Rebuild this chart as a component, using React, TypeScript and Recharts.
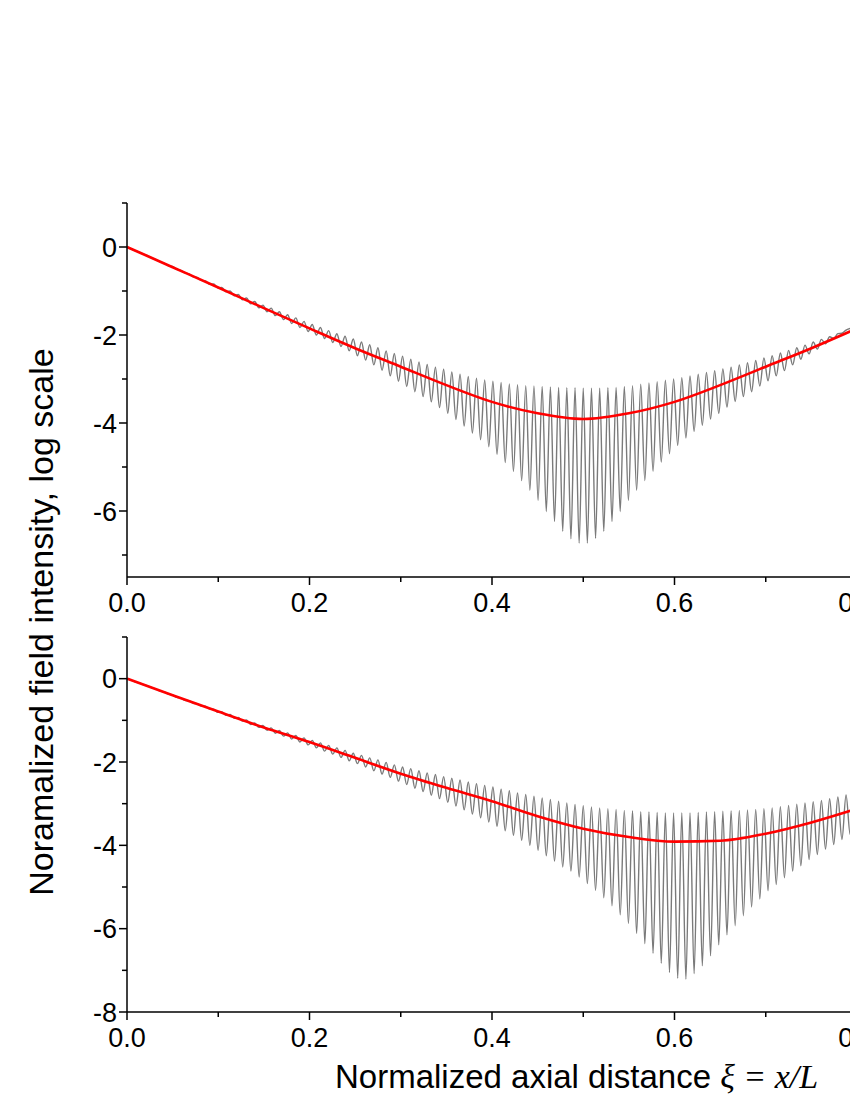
import { LineChart, Line, XAxis, YAxis } from 'recharts'

// spacing of the fast oscillation and where its first trough / peak sit
const PERIOD = 0.009
const FIRST_TROUGH = 0.0005
const FIRST_PEAK = 0.005

const X_TICKS = [0, 0.1, 0.2, 0.3, 0.4, 0.5, 0.6, 0.7, 0.8]
const TOP_Y_TICKS = [1, 0, -1, -2, -3, -4, -5, -6, -7]
const BOTTOM_Y_TICKS = [1, 0, -1, -2, -3, -4, -5, -6, -7, -8]

// smooth (averaged) curves, red
const RED_X = [0, 0.05, 0.1, 0.15, 0.2, 0.25, 0.3, 0.35, 0.4, 0.45, 0.5, 0.55, 0.6, 0.65, 0.7, 0.75, 0.8]
const TOP_RED = [0, -0.46, -0.92, -1.39, -1.85, -2.3, -2.72, -3.14, -3.52, -3.78, -3.91, -3.78, -3.52, -3.14, -2.72, -2.3, -1.85]
const BOTTOM_RED = [0, -0.4, -0.79, -1.17, -1.52, -1.9, -2.28, -2.62, -2.94, -3.3, -3.6, -3.8, -3.91, -3.89, -3.72, -3.45, -3.12]

// oscillating curves, gray: values at each peak and each trough
const TOP_PEAKS = [
  -0.05, -0.12, -0.2, -0.29, -0.37, -0.44, -0.53, -0.61, -0.69, -0.77,
  -0.84, -0.92, -1.0, -1.08, -1.16, -1.24, -1.32, -1.39, -1.47, -1.54,
  -1.61, -1.69, -1.76, -1.83, -1.9, -1.97, -2.03, -2.09, -2.16, -2.22,
  -2.29, -2.36, -2.42, -2.48, -2.55, -2.61, -2.67, -2.73, -2.78, -2.84,
  -2.89, -2.94, -2.98, -3.02, -3.05, -3.08, -3.11, -3.13, -3.15, -3.16,
  -3.17, -3.18, -3.19, -3.2, -3.2, -3.21, -3.21, -3.21, -3.2, -3.19,
  -3.17, -3.15, -3.12, -3.09, -3.06, -3.03, -3.0, -2.97, -2.93, -2.89,
  -2.85, -2.81, -2.77, -2.73, -2.68, -2.63, -2.58, -2.52, -2.47, -2.41,
  -2.35, -2.29, -2.23, -2.16, -2.1, -2.04, -1.97, -1.89, -1.82,
]
const TOP_TROUGHS = [
  0, -0.09, -0.17, -0.25, -0.34, -0.43, -0.51, -0.59, -0.68, -0.76,
  -0.85, -0.93, -1.02, -1.11, -1.2, -1.29, -1.38, -1.47, -1.56, -1.65,
  -1.74, -1.83, -1.92, -2.0, -2.08, -2.17, -2.26, -2.36, -2.47, -2.57,
  -2.68, -2.8, -2.93, -3.05, -3.17, -3.29, -3.4, -3.52, -3.65, -3.78,
  -3.92, -4.07, -4.23, -4.38, -4.54, -4.71, -4.9, -5.1, -5.31, -5.53,
  -5.76, -6.01, -6.24, -6.46, -6.63, -6.73, -6.73, -6.62, -6.46, -6.24,
  -6.01, -5.76, -5.53, -5.31, -5.1, -4.89, -4.7, -4.51, -4.34, -4.19,
  -4.05, -3.91, -3.78, -3.64, -3.51, -3.4, -3.29, -3.16, -3.04, -2.93,
  -2.81, -2.68, -2.55, -2.43, -2.32, -2.2, -2.08, -1.96, -1.85, -1.75,
]
const BOTTOM_PEAKS = [
  -0.04, -0.11, -0.18, -0.25, -0.32, -0.39, -0.46, -0.53, -0.6, -0.66,
  -0.73, -0.8, -0.86, -0.93, -0.99, -1.06, -1.12, -1.18, -1.24, -1.3,
  -1.36, -1.42, -1.48, -1.54, -1.6, -1.66, -1.72, -1.79, -1.84, -1.9,
  -1.95, -2.01, -2.07, -2.12, -2.16, -2.21, -2.26, -2.3, -2.35, -2.39,
  -2.43, -2.48, -2.52, -2.56, -2.6, -2.65, -2.69, -2.74, -2.78, -2.82,
  -2.86, -2.9, -2.94, -2.98, -3.02, -3.05, -3.08, -3.1, -3.12, -3.14,
  -3.16, -3.17, -3.19, -3.2, -3.21, -3.22, -3.22, -3.22, -3.22, -3.21,
  -3.2, -3.19, -3.18, -3.17, -3.16, -3.15, -3.14, -3.12, -3.1, -3.07,
  -3.04, -3.01, -2.98, -2.95, -2.92, -2.88, -2.84, -2.79, -2.74,
]
const BOTTOM_TROUGHS = [
  0, -0.08, -0.15, -0.22, -0.3, -0.37, -0.45, -0.52, -0.59, -0.66,
  -0.73, -0.81, -0.88, -0.95, -1.02, -1.1, -1.17, -1.24, -1.31, -1.38,
  -1.45, -1.52, -1.59, -1.66, -1.74, -1.81, -1.89, -1.97, -2.04, -2.12,
  -2.21, -2.29, -2.37, -2.46, -2.54, -2.63, -2.71, -2.8, -2.88, -2.97,
  -3.06, -3.15, -3.25, -3.34, -3.44, -3.54, -3.65, -3.76, -3.88, -4.0,
  -4.12, -4.25, -4.38, -4.52, -4.62, -4.76, -4.92, -5.08, -5.26, -5.45,
  -5.67, -5.88, -6.12, -6.36, -6.59, -6.83, -7.05, -7.19, -7.21, -7.08,
  -6.89, -6.65, -6.39, -6.15, -5.93, -5.69, -5.48, -5.29, -5.09, -4.94,
  -4.78, -4.62, -4.49, -4.34, -4.22, -4.09, -3.98, -3.86, -3.74, -3.62,
]

const FONT = '"Liberation Sans", Arial, sans-serif'
const TICK_FONT = 27

function waveData(troughs: number[], peaks: number[]) {
  const pts: { x: number; y: number }[] = []
  troughs.forEach((t, k) => {
    pts.push({ x: FIRST_TROUGH + k * PERIOD, y: t })
    if (k < peaks.length) pts.push({ x: FIRST_PEAK + k * PERIOD, y: peaks[k] })
  })
  return pts
}

function redData(vals: number[]) {
  return RED_X.map((x, i) => ({ x, y: vals[i] }))
}

const XTick = (props: any) => {
  const { x, y, payload } = props
  const v = payload.value as number
  const major = Math.round(v * 10) % 2 === 0
  return (
    <g>
      <line x1={x} x2={x} y1={y} y2={y + (major ? 8 : 5)} stroke="#000" strokeWidth={1.5} />
      {major && (
        <text x={x} y={y + 35} textAnchor="middle" fontSize={TICK_FONT} fontFamily={FONT} fill="#000">
          {v.toFixed(1)}
        </text>
      )}
    </g>
  )
}

const YTick = (props: any) => {
  const { x, y, payload } = props
  const v = payload.value as number
  const major = v % 2 === 0
  return (
    <g>
      <line x1={x} x2={x - (major ? 8 : 5)} y1={y} y2={y} stroke="#000" strokeWidth={1.5} />
      {major && (
        <text x={x - 10} y={y + TICK_FONT * 0.36} textAnchor="end" fontSize={TICK_FONT} fontFamily={FONT} fill="#000">
          {`${v}`}
        </text>
      )}
    </g>
  )
}

interface PanelProps {
  top: number
  height: number
  marginTop: number
  domain: [number, number]
  yTicks: number[]
  peaks: number[]
  troughs: number[]
  red: number[]
}

function Panel({ top, height, marginTop, domain, yTicks, peaks, troughs, red }: PanelProps) {
  return (
    <div style={{ position: 'absolute', left: 0, top }}>
      <LineChart width={880} height={height} margin={{ top: marginTop, right: 23, bottom: 0, left: 0 }}>
        <XAxis
          dataKey="x"
          type="number"
          domain={[0, 0.8]}
          ticks={X_TICKS}
          interval={0}
          allowDataOverflow
          height={50}
          tickSize={0}
          tickMargin={0}
          tickLine={false}
          axisLine={{ stroke: '#000', strokeWidth: 1.5 }}
          tick={<XTick />}
        />
        <YAxis
          type="number"
          domain={domain}
          ticks={yTicks}
          interval={0}
          allowDataOverflow
          width={127}
          tickSize={0}
          tickMargin={0}
          tickLine={false}
          axisLine={{ stroke: '#000', strokeWidth: 1.5 }}
          tick={<YTick />}
        />
        <Line
          data={waveData(troughs, peaks)}
          dataKey="y"
          type="monotone"
          stroke="#7a7a7a"
          strokeWidth={1.4}
          dot={false}
          isAnimationActive={false}
        />
        <Line
          data={redData(red)}
          dataKey="y"
          type="monotone"
          stroke="#ff0000"
          strokeWidth={2.6}
          dot={false}
          isAnimationActive={false}
        />
      </LineChart>
    </div>
  )
}

export default function App() {
  return (
    <div
      style={{
        position: 'absolute',
        left: 0,
        top: 0,
        width: 850,
        height: 1100,
        overflow: 'hidden',
        background: '#fff',
        fontFamily: FONT,
      }}
    >
      <Panel
        top={0}
        height={627}
        marginTop={203}
        domain={[-7.5, 1]}
        yTicks={TOP_Y_TICKS}
        peaks={TOP_PEAKS}
        troughs={TOP_TROUGHS}
        red={TOP_RED}
      />
      <Panel
        top={620}
        height={442}
        marginTop={17}
        domain={[-8, 1]}
        yTicks={BOTTOM_Y_TICKS}
        peaks={BOTTOM_PEAKS}
        troughs={BOTTOM_TROUGHS}
        red={BOTTOM_RED}
      />
      <svg
        width={850}
        height={1100}
        style={{ position: 'absolute', left: 0, top: 0, pointerEvents: 'none' }}
      >
        <text
          transform="rotate(-90)"
          x={-622}
          y={53}
          textAnchor="middle"
          fontSize={34}
          fontFamily={FONT}
          fill="#000"
        >
          Noramalized field intensity, log scale
        </text>
        <text x={335} y={1088} fontSize={33} fontFamily={FONT} fill="#000">
          Normalized axial distance{' '}
          <tspan fontFamily='"Liberation Serif", "Times New Roman", serif' fontStyle="italic" fontSize={34}>
            ξ = x/L
          </tspan>
        </text>
      </svg>
    </div>
  )
}
